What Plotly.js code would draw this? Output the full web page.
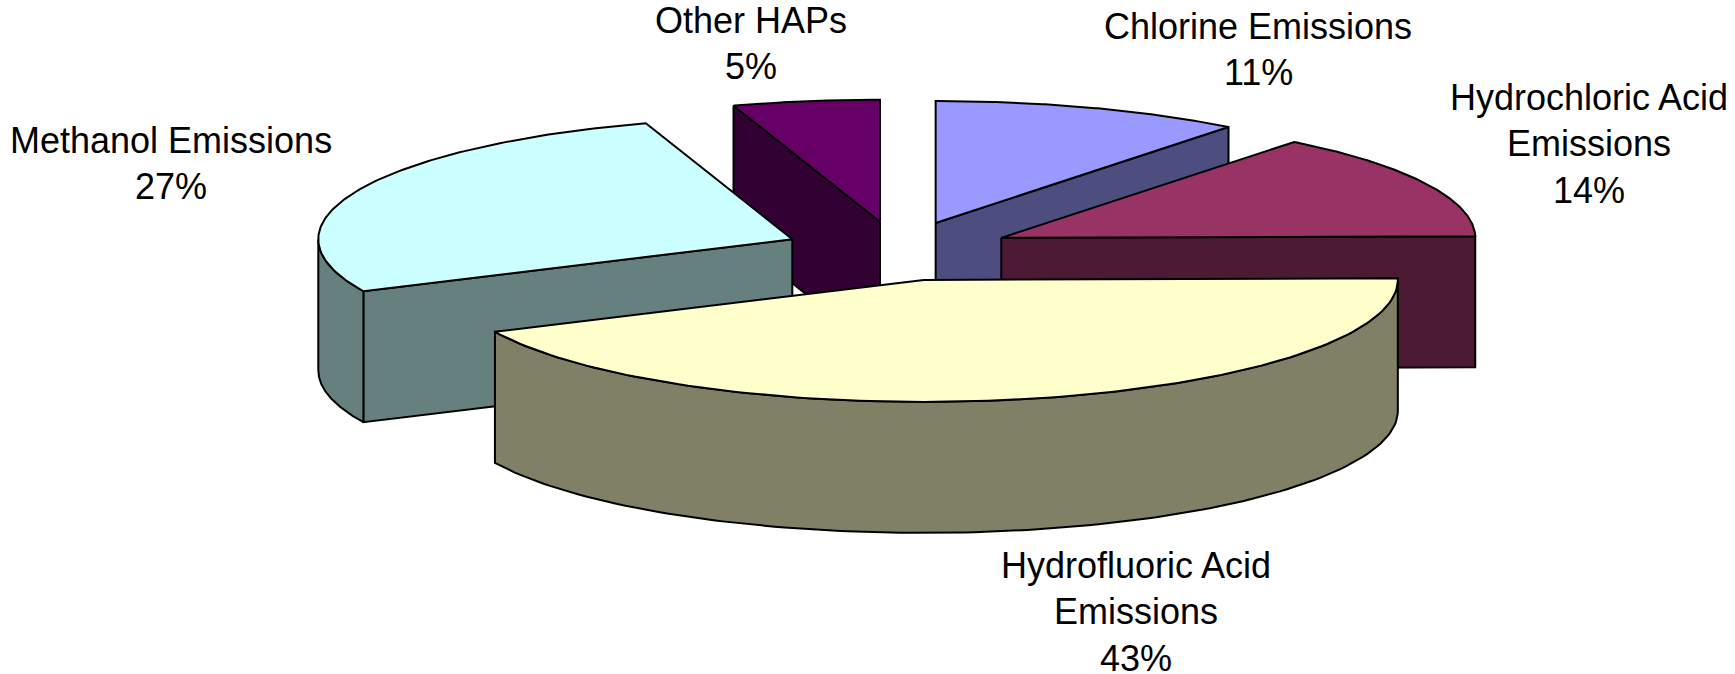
<!DOCTYPE html>
<html>
<head>
<meta charset="utf-8">
<script src="https://cdn.plot.ly/plotly-3.0.1.min.js"></script>
<style>
  html, body { margin: 0; padding: 0; background: #ffffff; }
  #chart { width: 1735px; height: 674px; }
</style>
</head>
<body>
<div id="chart"></div>
<script>
// ---- data ----
const categories = ['Chlorine Emissions', 'Hydrochloric Acid Emissions', 'Hydrofluoric Acid Emissions', 'Methanol Emissions', 'Other HAPs'];
const values = [10.6, 14.2, 43.2, 27.0, 5.0];
const labelLines = [['Chlorine Emissions'], ['Hydrochloric Acid', 'Emissions'], ['Hydrofluoric Acid', 'Emissions'], ['Methanol Emissions'], ['Other HAPs']];

// ---- styles ----
const topColors = ['#9999FF', '#993366', '#FFFFCC', '#CCFFFF', '#660066'];
const sideColors = ['#4D4D80', '#4D1A33', '#808066', '#668080', '#330033'];
const labelPos = [[1258, 26], [1589, 97], [1136, 565], [171, 140], [751, 20]];
const LINE_H = 46.5;
const FONT = {family: 'Liberation Sans, Arial, sans-serif', size: 36, color: '#000000'};

// ---- pie geometry (pixel space of the plot) ----
const CX = 898, CY = 251, RX = 474, RY = 122, EXPLODE = 0.243, DEPTH = 131, STEPS = 120;

const total = values.reduce((a, b) => a + b, 0);
const slices = [];
let acc = 0;
values.forEach((v, i) => {
  const a1 = acc / total * 2 * Math.PI;
  acc += v;
  const a2 = acc / total * 2 * Math.PI;
  const b = (a1 + a2) / 2;
  const ax = CX + EXPLODE * RX * Math.sin(b);
  const ay = CY - EXPLODE * RY * Math.cos(b);
  slices.push({i, a1, a2, b, ax, ay});
});

function P(s, a, dz) {
  return [s.ax + RX * Math.sin(a), s.ay - RY * Math.cos(a) + (dz || 0)];
}
function arc(s, from, to, dz) {
  const pts = [];
  for (let k = 0; k <= STEPS; k++) {
    pts.push(P(s, from + (to - from) * k / STEPS, dz));
  }
  return pts;
}
function poly(pts, fill) {
  const xs = pts.map(p => p[0]); const ys = pts.map(p => p[1]);
  xs.push(pts[0][0]); ys.push(pts[0][1]);
  return {
    type: 'scatter', mode: 'lines', x: xs, y: ys, fill: 'toself', fillcolor: fill,
    line: {color: '#000000', width: 2}, hoverinfo: 'skip', showlegend: false
  };
}

const traces = [];
// back-to-front painter order
const order = slices.slice().sort((p, q) => p.ay - q.ay);
order.forEach(s => {
  const side = sideColors[s.i];
  // radial cut faces
  if (Math.sin(s.a1) < -1e-6) {
    const e = P(s, s.a1);
    traces.push(poly([[s.ax, s.ay], e, [e[0], e[1] + DEPTH], [s.ax, s.ay + DEPTH]], side));
  }
  if (Math.sin(s.a2) > 1e-6) {
    const e = P(s, s.a2);
    traces.push(poly([[s.ax, s.ay], e, [e[0], e[1] + DEPTH], [s.ax, s.ay + DEPTH]], side));
  }
  // outer curved wall (front half only)
  const st = Math.max(s.a1, Math.PI / 2), en = Math.min(s.a2, 3 * Math.PI / 2);
  if (en > st) {
    const pts = arc(s, st, en, 0).concat(arc(s, en, st, DEPTH));
    traces.push(poly(pts, side));
  }
  // top face
  traces.push(poly([[s.ax, s.ay]].concat(arc(s, s.a1, s.a2, 0)), topColors[s.i]));
});

// labels
const annotations = [];
slices.forEach(s => {
  const lines = labelLines[s.i].concat([Math.round(values[s.i] / total * 100) + '%']);
  lines.forEach((t, k) => {
    annotations.push({
      x: labelPos[s.i][0], y: labelPos[s.i][1] + k * LINE_H, xref: 'x', yref: 'y',
      text: t, showarrow: false, xanchor: 'center', yanchor: 'middle', font: FONT
    });
  });
});

const layout = {
  width: 1735, height: 674,
  margin: {l: 0, r: 0, t: 0, b: 0},
  paper_bgcolor: '#ffffff', plot_bgcolor: '#ffffff',
  xaxis: {range: [0, 1735], visible: false, fixedrange: true},
  yaxis: {range: [674, 0], visible: false, fixedrange: true},
  showlegend: false,
  annotations: annotations
};

Plotly.newPlot('chart', traces, layout, {displayModeBar: false, staticPlot: true});
</script>
</body>
</html>
